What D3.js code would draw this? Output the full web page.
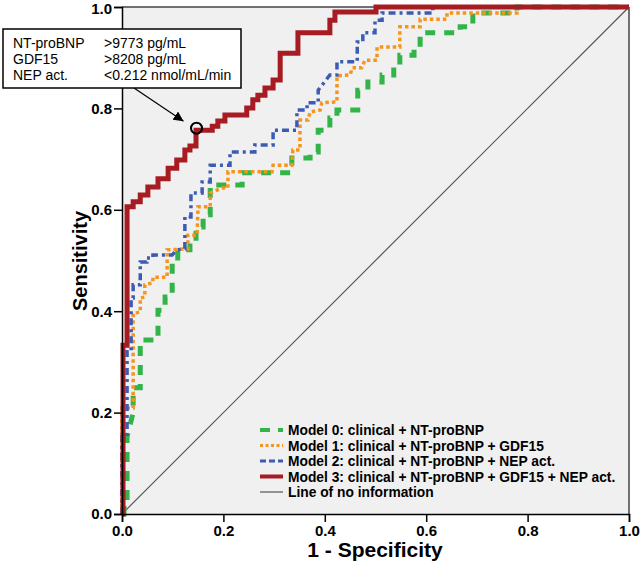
<!DOCTYPE html>
<html><head><meta charset="utf-8">
<script src="https://cdn.jsdelivr.net/npm/d3@7"></script>
<style>body{margin:0;background:#fff}svg{display:block}text{font-family:"Liberation Sans",Arial,Helvetica,sans-serif}</style>
</head><body>
<script>
const xTicks=[0,0.2,0.4,0.6,0.8,1.0];
const yTicks=[0,0.2,0.4,0.6,0.8,1.0];
const seriesNames=["Model 0: clinical + NT-proBNP","Model 1: clinical + NT-proBNP + GDF15","Model 2: clinical + NT-proBNP + NEP act.","Model 3: clinical + NT-proBNP + GDF15 + NEP act.","Line of no information"];
const model0=[[0,0],[0.004,0],[0.004,0.024],[0.01,0.024],[0.01,0.152],[0.022,0.2],[0.022,0.249],[0.036,0.249],[0.036,0.343],[0.071,0.343],[0.071,0.402],[0.085,0.402],[0.085,0.428],[0.099,0.428],[0.099,0.495],[0.110,0.495],[0.110,0.521],[0.134,0.521],[0.134,0.536],[0.146,0.536],[0.146,0.566],[0.160,0.566],[0.160,0.590],[0.174,0.590],[0.174,0.649],[0.237,0.649],[0.237,0.673],[0.335,0.673],[0.335,0.702],[0.371,0.702],[0.371,0.714],[0.387,0.714],[0.387,0.757],[0.410,0.757],[0.410,0.781],[0.424,0.781],[0.424,0.797],[0.465,0.797],[0.465,0.836],[0.485,0.836],[0.485,0.852],[0.513,0.852],[0.513,0.866],[0.536,0.866],[0.536,0.886],[0.548,0.886],[0.548,0.905],[0.576,0.905],[0.576,0.919],[0.588,0.919],[0.588,0.949],[0.667,0.949],[0.667,0.961],[0.692,0.961],[0.692,0.988],[0.779,0.988],[0.779,1],[1,1]];
const model1=[[0,0],[0,0.209],[0.022,0.209],[0.022,0.396],[0.036,0.398],[0.036,0.426],[0.045,0.428],[0.045,0.452],[0.061,0.456],[0.061,0.467],[0.089,0.467],[0.089,0.521],[0.130,0.523],[0.130,0.550],[0.148,0.550],[0.150,0.606],[0.174,0.606],[0.174,0.633],[0.197,0.643],[0.209,0.643],[0.209,0.675],[0.296,0.675],[0.298,0.688],[0.335,0.688],[0.337,0.718],[0.351,0.718],[0.351,0.777],[0.367,0.777],[0.371,0.793],[0.391,0.797],[0.394,0.811],[0.424,0.813],[0.424,0.864],[0.45,0.866],[0.454,0.880],[0.473,0.880],[0.479,0.895],[0.503,0.895],[0.503,0.921],[0.548,0.921],[0.548,0.961],[0.588,0.961],[0.588,0.976],[0.641,0.976],[0.641,0.988],[0.779,0.988],[0.779,1],[1,1]];
const model2=[[0,0],[0,0.152],[0.01,0.152],[0.01,0.32],[0.018,0.32],[0.018,0.426],[0.022,0.426],[0.022,0.452],[0.036,0.452],[0.036,0.497],[0.049,0.497],[0.049,0.505],[0.061,0.505],[0.061,0.511],[0.099,0.511],[0.108,0.521],[0.124,0.523],[0.124,0.586],[0.136,0.586],[0.136,0.633],[0.158,0.633],[0.158,0.655],[0.174,0.655],[0.174,0.688],[0.213,0.688],[0.213,0.714],[0.262,0.714],[0.262,0.728],[0.298,0.728],[0.298,0.757],[0.345,0.757],[0.345,0.797],[0.365,0.797],[0.365,0.811],[0.387,0.811],[0.387,0.836],[0.41,0.866],[0.424,0.866],[0.424,0.892],[0.464,0.892],[0.464,0.931],[0.475,0.931],[0.475,0.949],[0.499,0.949],[0.499,0.974],[0.513,0.974],[0.513,0.988],[0.613,0.988],[0.613,1],[1,1]];
const model3=[[0,0],[0.002,0],[0.002,0.333],[0.01,0.333],[0.01,0.606],[0.022,0.606],[0.022,0.616],[0.036,0.616],[0.036,0.629],[0.051,0.629],[0.051,0.645],[0.071,0.645],[0.071,0.661],[0.091,0.661],[0.091,0.682],[0.108,0.682],[0.108,0.698],[0.124,0.698],[0.124,0.718],[0.134,0.718],[0.134,0.726],[0.146,0.726],[0.146,0.757],[0.178,0.757],[0.178,0.765],[0.189,0.765],[0.189,0.775],[0.203,0.775],[0.203,0.787],[0.246,0.787],[0.246,0.801],[0.258,0.801],[0.258,0.817],[0.268,0.817],[0.268,0.826],[0.282,0.826],[0.282,0.840],[0.298,0.840],[0.298,0.856],[0.312,0.856],[0.312,0.909],[0.347,0.909],[0.347,0.949],[0.410,0.949],[0.410,0.974],[0.420,0.974],[0.420,0.990],[0.501,0.990],[0.501,1],[1,1]];
const diagonal=[[0,0],[1,1]];
const cutoffPoint=[0.147,0.761];
const annoLabels=["NT-proBNP","GDF15","NEP act."];
const annoValues=[">9773 pg/mL",">8208 pg/mL","<0.212 nmol/mL/min"];

const W=642,H=572;
const svg=d3.select("body").append("svg").attr("width",W).attr("height",H);
const x=d3.scaleLinear().domain([0,1]).range([122,629]);
const y=d3.scaleLinear().domain([0,1]).range([514,7]);

svg.append("rect").attr("x",x(0)).attr("y",y(1)).attr("width",x(1)-x(0)).attr("height",y(0)-y(1)).attr("fill","#f0f0f0");
svg.append("line").attr("x1",x(0)).attr("y1",y(1)).attr("x2",x(1)).attr("y2",y(1)).attr("stroke","#444").attr("stroke-width",1.5);
svg.append("line").attr("x1",x(1)).attr("y1",y(1)).attr("x2",x(1)).attr("y2",y(0)).attr("stroke","#444").attr("stroke-width",1.5);

const line=d3.line().x(d=>x(d[0])).y(d=>y(d[1]));
const styles=[
 {data:model0,color:"#33b44a",w:5,dash:"10,9"},
 {data:model1,color:"#f7941d",w:3.5,dash:"3.5,3"},
 {data:model2,color:"#3c5cb4",w:3.5,dash:"7,4,3,4"},
 {data:model3,color:"#a61c22",w:5,dash:null},
 {data:diagonal,color:"#555",w:1.2,dash:null}
];
svg.append("path").attr("d",line(diagonal)).attr("fill","none").attr("stroke","#555").attr("stroke-width",1.2);
styles.slice(0,4).forEach(s=>{
 svg.append("path").attr("d",line(s.data)).attr("fill","none").attr("stroke",s.color).attr("stroke-width",s.w).attr("stroke-dasharray",s.dash).attr("stroke-linejoin","miter");
});

// axes
const ya=svg.append("g").attr("transform",`translate(${x(0)},0)`).call(d3.axisLeft(y).tickValues(yTicks).tickFormat(d3.format(".1f")).tickSize(8).tickPadding(2));
const xa=svg.append("g").attr("transform",`translate(0,${y(0)})`).call(d3.axisBottom(x).tickValues(xTicks).tickFormat(d3.format(".1f")).tickSize(8).tickPadding(3));
[ya,xa].forEach(a=>{a.select(".domain").attr("stroke","#000").attr("stroke-width",1.5);a.selectAll(".tick line").attr("stroke","#000").attr("stroke-width",1.5);a.selectAll("text").attr("font-size",15).attr("font-weight","bold").attr("fill","#000").style("font-family","Liberation Sans, Arial, sans-serif");});
ya.selectAll(".tick text").filter(d=>d===1).attr("dy","0.45em");

svg.append("text").attr("x",375).attr("y",557).attr("text-anchor","middle").attr("font-size",21).attr("font-weight","bold").text("1 - Specificity");
svg.append("text").attr("transform","translate(87,261) rotate(-90)").attr("text-anchor","middle").attr("font-size",20).attr("font-weight","bold").text("Sensitivity");

// legend
const lg=svg.append("g");
styles.forEach((s,i)=>{
 const ly=430+i*15.5;
 lg.append("line").attr("x1",260).attr("x2",283).attr("y1",ly).attr("y2",ly).attr("stroke",s.color).attr("stroke-width",i===4?1.2:(i===0||i===3?4:3)).attr("stroke-dasharray",i===0?"10,8":(i===1?"3,2.5":(i===2?"6,3":null)));
 lg.append("text").attr("x",288).attr("y",ly+5).attr("font-size",13.8).attr("font-weight","bold").text(seriesNames[i]);
});

// cutoff marker and annotation
svg.append("circle").attr("cx",x(cutoffPoint[0])).attr("cy",y(cutoffPoint[1])).attr("r",5.5).attr("fill","none").attr("stroke","#000").attr("stroke-width",2);
svg.append("defs").append("marker").attr("id","ah").attr("viewBox","0 0 10 10").attr("refX",10).attr("refY",5).attr("markerWidth",10).attr("markerHeight",10).attr("markerUnits","userSpaceOnUse").attr("orient","auto").append("path").attr("d","M0,0L10,5L0,10Z").attr("fill","#000");
svg.append("line").attr("x1",134).attr("y1",88).attr("x2",x(cutoffPoint[0])-13).attr("y2",y(cutoffPoint[1])-7).attr("stroke","#000").attr("stroke-width",1.2).attr("marker-end","url(#ah)");
svg.append("rect").attr("x",3).attr("y",29).attr("width",238).attr("height",59).attr("fill","#fff").attr("stroke","#000").attr("stroke-width",1.5);
annoLabels.forEach((t,i)=>{
 svg.append("text").attr("x",13).attr("y",48+i*16).attr("font-size",14).text(t);
 svg.append("text").attr("x",104).attr("y",48+i*16).attr("font-size",14).text(annoValues[i]);
});
</script>
</body></html>
